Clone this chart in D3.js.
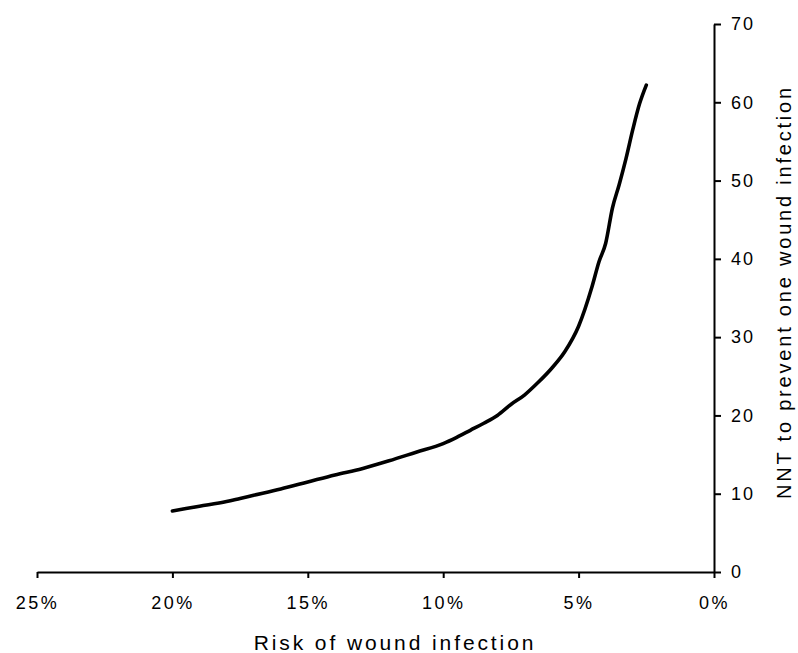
<!DOCTYPE html>
<html>
<head>
<meta charset="utf-8">
<script src="https://cdn.jsdelivr.net/npm/d3@7/dist/d3.min.js"></script>
<style>
  html, body { margin: 0; padding: 0; background: #fff; }
  svg { display: block; }
  text { font-family: "Liberation Sans", Arial, sans-serif; fill: #000; }
</style>
</head>
<body>
<svg id="chart" width="798" height="653"></svg>
<script>
// Risk of wound infection (%) and NNT
const risk = [20, 19, 18, 17.5, 17, 16, 15, 14, 13, 12, 11, 10, 9.5, 9, 8.5, 8, 7.5, 7, 6.5, 6, 5.5, 5, 4.5, 4.25, 4, 3.75, 3.5, 3.25, 3, 2.75, 2.5];
const nnt  = [7.8, 8.4, 9.0, 9.4, 9.8, 10.6, 11.5, 12.4, 13.2, 14.2, 15.3, 16.4, 17.2, 18.1, 19.0, 20.0, 21.4, 22.6, 24.2, 26.0, 28.2, 31.4, 36.5, 39.6, 42.0, 46.5, 49.5, 52.8, 56.5, 59.8, 62.2];
const xTicks = [25, 20, 15, 10, 5, 0];
const yTicks = [0, 10, 20, 30, 40, 50, 60, 70];
const xTitle = "Risk of wound infection";
const yTitle = "NNT to prevent one wound infection";

const svg = d3.select("#chart");
const x = d3.scaleLinear().domain([25, 0]).range([37, 714]);
const y = d3.scaleLinear().domain([0, 70]).range([572, 24]);

const data = risk.map((r, i) => ({ r, v: nnt[i] }));

// X axis
const gx = svg.append("g").attr("transform", `translate(0,${y(0)})`)
  .call(d3.axisBottom(x).tickValues(xTicks).tickFormat(d => d + "%").tickSize(6).tickSizeOuter(0).tickPadding(18));
gx.select(".domain").attr("stroke", "#000").attr("stroke-width", 2);
gx.selectAll(".tick line").attr("stroke", "#000").attr("stroke-width", 2);
gx.selectAll(".tick text").attr("font-size", 18).style("letter-spacing", "2.5px")
  .attr("font-family", "Liberation Sans, Arial, sans-serif");

// Y axis (on the right)
const gy = svg.append("g").attr("transform", `translate(${x(0)},0)`)
  .call(d3.axisRight(y).tickValues(yTicks).tickSize(7).tickSizeOuter(0).tickPadding(10));
gy.select(".domain").attr("stroke", "#000").attr("stroke-width", 2);
gy.selectAll(".tick line").attr("stroke", "#000").attr("stroke-width", 2);
gy.selectAll(".tick text").attr("font-size", 18).style("letter-spacing", "2px")
  .attr("font-family", "Liberation Sans, Arial, sans-serif");

// Line
svg.append("path").datum(data)
  .attr("fill", "none").attr("stroke", "#000").attr("stroke-width", 3.6)
  .attr("stroke-linejoin", "round").attr("stroke-linecap", "round")
  .attr("d", d3.line().x(d => x(d.r)).y(d => y(d.v)).curve(d3.curveMonotoneX));

// Titles
svg.append("text").attr("x", 395).attr("y", 650).attr("text-anchor", "middle")
  .attr("font-size", 21).style("letter-spacing", "2.9px").text(xTitle);
svg.append("text").attr("transform", `translate(791,292) rotate(-90)`).attr("text-anchor", "middle")
  .attr("font-size", 20).style("letter-spacing", "2.8px").text(yTitle);
</script>
</body>
</html>
